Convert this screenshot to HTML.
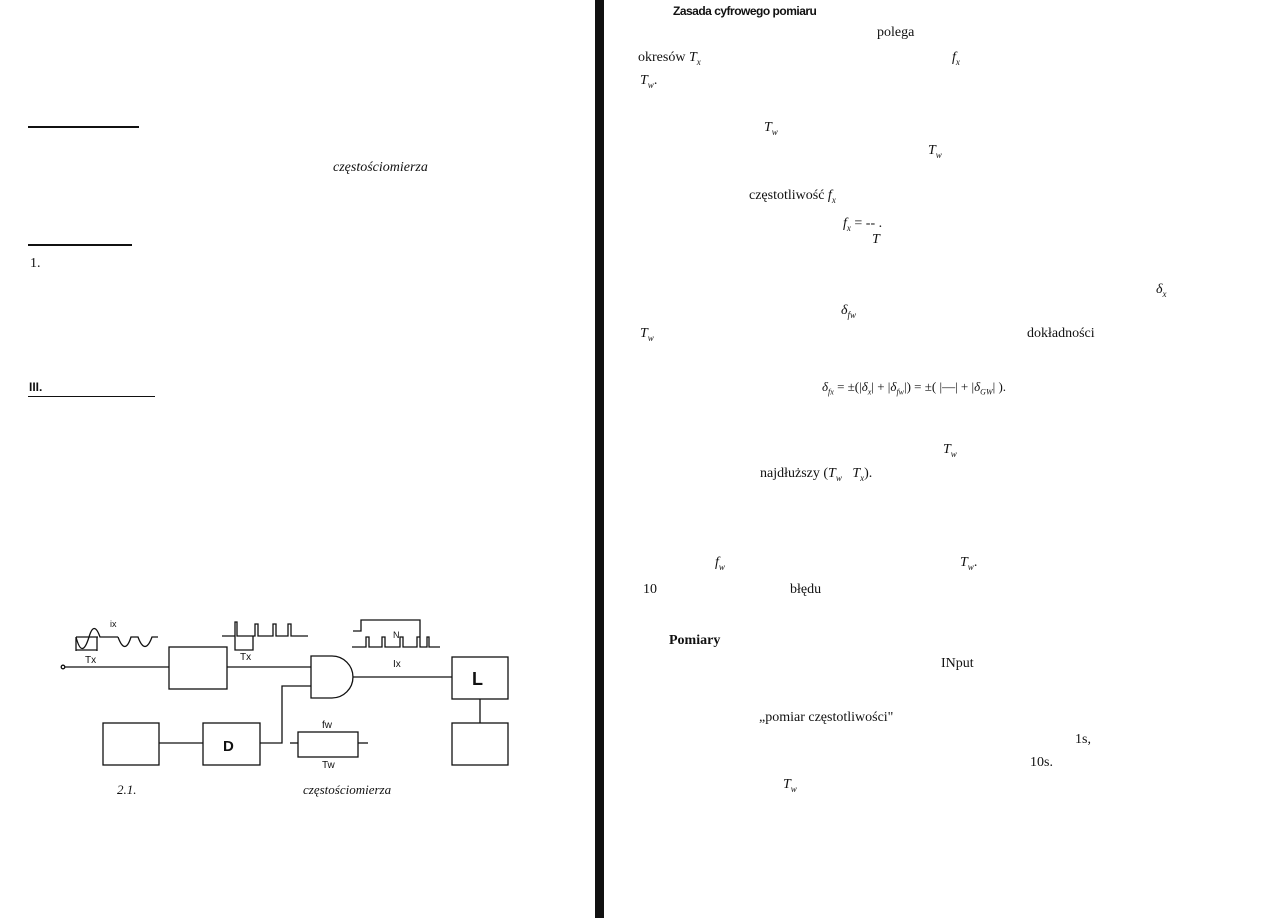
<!DOCTYPE html>
<html><head><meta charset="utf-8"><style>
body{margin:0;width:1263px;height:918px;background:#fff;position:relative;overflow:hidden;font-family:"Liberation Serif",serif;font-size:14px;color:#111}
.t{position:absolute;white-space:nowrap;line-height:1}
i{font-style:italic}
.l{position:absolute;background:#111}
</style></head><body>
<div class="l" style="left:595px;top:0;width:9px;height:918px"></div>
<div class="l" style="left:28px;top:126px;width:111px;height:1.5px"></div>
<div class="l" style="left:28px;top:244px;width:104px;height:1.5px"></div>
<div class="l" style="left:28px;top:396px;width:127px;height:1px"></div>
<div class="t" style="left:333px;top:161px"><i>częstościomierza</i></div>
<div class="t" style="left:30px;top:257px">1.</div>
<div class="t" style="left:29px;top:381px;font-family:'Liberation Sans',sans-serif;font-weight:bold;font-size:12px">III.</div>
<div class="t" style="left:117px;top:783px;font-size:13px"><i>2.1.</i></div>
<div class="t" style="left:303px;top:783px;font-size:13px"><i>częstościomierza</i></div>

<svg style="position:absolute;left:0;top:0" width="600" height="918">
<g fill="none" stroke="#111" stroke-width="1.3">
<line x1="64" y1="667" x2="169" y2="667"/><circle cx="63" cy="667" r="1.8" fill="#fff"/>
<rect x="169" y="647" width="58" height="42"/>
<line x1="227" y1="667" x2="311" y2="667"/>
<path d="M311 656 H332 A21 21 0 0 1 332 698 H311 Z"/>
<line x1="353" y1="677" x2="452" y2="677"/>
<rect x="452" y="657" width="56" height="42"/>
<line x1="480" y1="699" x2="480" y2="723"/>
<rect x="452" y="723" width="56" height="42"/>
<rect x="103" y="723" width="56" height="42"/>
<line x1="159" y1="743" x2="203" y2="743"/>
<rect x="203" y="723" width="57" height="42"/>
<path d="M260 743 H282 V686 H311"/>
<rect x="298" y="732" width="60" height="25"/>
<line x1="290" y1="743" x2="298" y2="743"/><line x1="358" y1="743" x2="368" y2="743"/>
<path d="M76 637 H98 M76 637 V651 M97 637 V651 M76 650 H97"/>
<path d="M76 637 Q82 660 89 637 Q94 620 100 637 H118 M118 637 Q125 656 131 637 H138 Q145 656 152 637 H158"/>
<path d="M222 636 H235 V622 H237 V636 H255 V624 H258 V636 H273 V624 H276 V636 H288 V624 H291 V636 H308 M235 636 V650 H253 V636"/>
<path d="M353 631 H361 V620 H420 V641 M352 647 H366 V637 H369 V647 H382 V637 H385 V647 H400 V637 H403 V647 H417 V637 H420 V647 H427 V637 H429 V647 H440"/>
</g>
<g font-family="Liberation Sans,sans-serif" fill="#111">
<text x="472" y="685" font-size="18" font-weight="bold">L</text>
<text x="223" y="751" font-size="15" font-weight="bold">D</text>
<text x="85" y="663" font-size="10">Tx</text>
<text x="240" y="660" font-size="10">Tx</text>
<text x="110" y="627" font-size="9">ix</text>
<text x="393" y="638" font-size="9">N</text>
<text x="393" y="667" font-size="10">Ix</text>
<text x="322" y="728" font-size="10">fw</text>
<text x="322" y="768" font-size="10">Tw</text>
</g>
</svg>

<div class="t" style="left:673px;top:5px;font-family:'Liberation Sans',sans-serif;font-weight:bold;font-size:12px;letter-spacing:-0.5px">Zasada cyfrowego pomiaru</div>
<div class="t" style="left:877px;top:26px">polega</div>
<div class="t" style="left:638px;top:51px">okresów <i>T<sub style="font-size:9px">x</sub></i></div>
<div class="t" style="left:952px;top:51px"><i>f<sub style="font-size:9px">x</sub></i></div>
<div class="t" style="left:640px;top:74px"><i>T<sub style="font-size:9px">w</sub></i>.</div>
<div class="t" style="left:764px;top:121px"><i>T<sub style="font-size:9px">w</sub></i></div>
<div class="t" style="left:928px;top:144px"><i>T<sub style="font-size:9px">w</sub></i></div>
<div class="t" style="left:749px;top:189px">częstotliwość <i>f<sub style="font-size:9px">x</sub></i></div>
<div class="t" style="left:843px;top:217px"><i>f<sub style="font-size:9px">x</sub></i> = -- .</div>
<div class="t" style="left:872px;top:233px"><i>T</i></div>
<div class="t" style="left:1156px;top:283px"><i>δ<sub style="font-size:9px">x</sub></i></div>
<div class="t" style="left:841px;top:304px"><i>δ<sub style="font-size:9px">fw</sub></i></div>
<div class="t" style="left:640px;top:327px"><i>T<sub style="font-size:9px">w</sub></i></div>
<div class="t" style="left:1027px;top:327px">dokładności</div>
<div class="t" style="left:822px;top:380px;font-size:13px"><i>δ<sub style="font-size:8px">fx</sub></i> = ±(|<i>δ<sub style="font-size:8px">x</sub></i>| + |<i>δ<sub style="font-size:8px">fw</sub></i>|) = ±( |—| + |<i>δ<sub style="font-size:8px">GW</sub></i>| ).</div>
<div class="t" style="left:943px;top:443px"><i>T<sub style="font-size:9px">w</sub></i></div>
<div class="t" style="left:760px;top:467px">najdłuższy (<i>T<sub style="font-size:9px">w</sub></i> &nbsp; <i>T<sub style="font-size:9px">x</sub></i>).</div>
<div class="t" style="left:715px;top:556px"><i>f<sub style="font-size:9px">w</sub></i></div>
<div class="t" style="left:960px;top:556px"><i>T<sub style="font-size:9px">w</sub></i>.</div>
<div class="t" style="left:643px;top:583px">10</div>
<div class="t" style="left:790px;top:583px">błędu</div>
<div class="t" style="left:669px;top:634px;font-weight:bold">Pomiary</div>
<div class="t" style="left:941px;top:657px">INput</div>
<div class="t" style="left:759px;top:711px">„pomiar częstotliwości"</div>
<div class="t" style="left:1075px;top:733px">1s,</div>
<div class="t" style="left:1030px;top:756px">10s.</div>
<div class="t" style="left:783px;top:778px"><i>T<sub style="font-size:9px">w</sub></i></div>
</body></html>
